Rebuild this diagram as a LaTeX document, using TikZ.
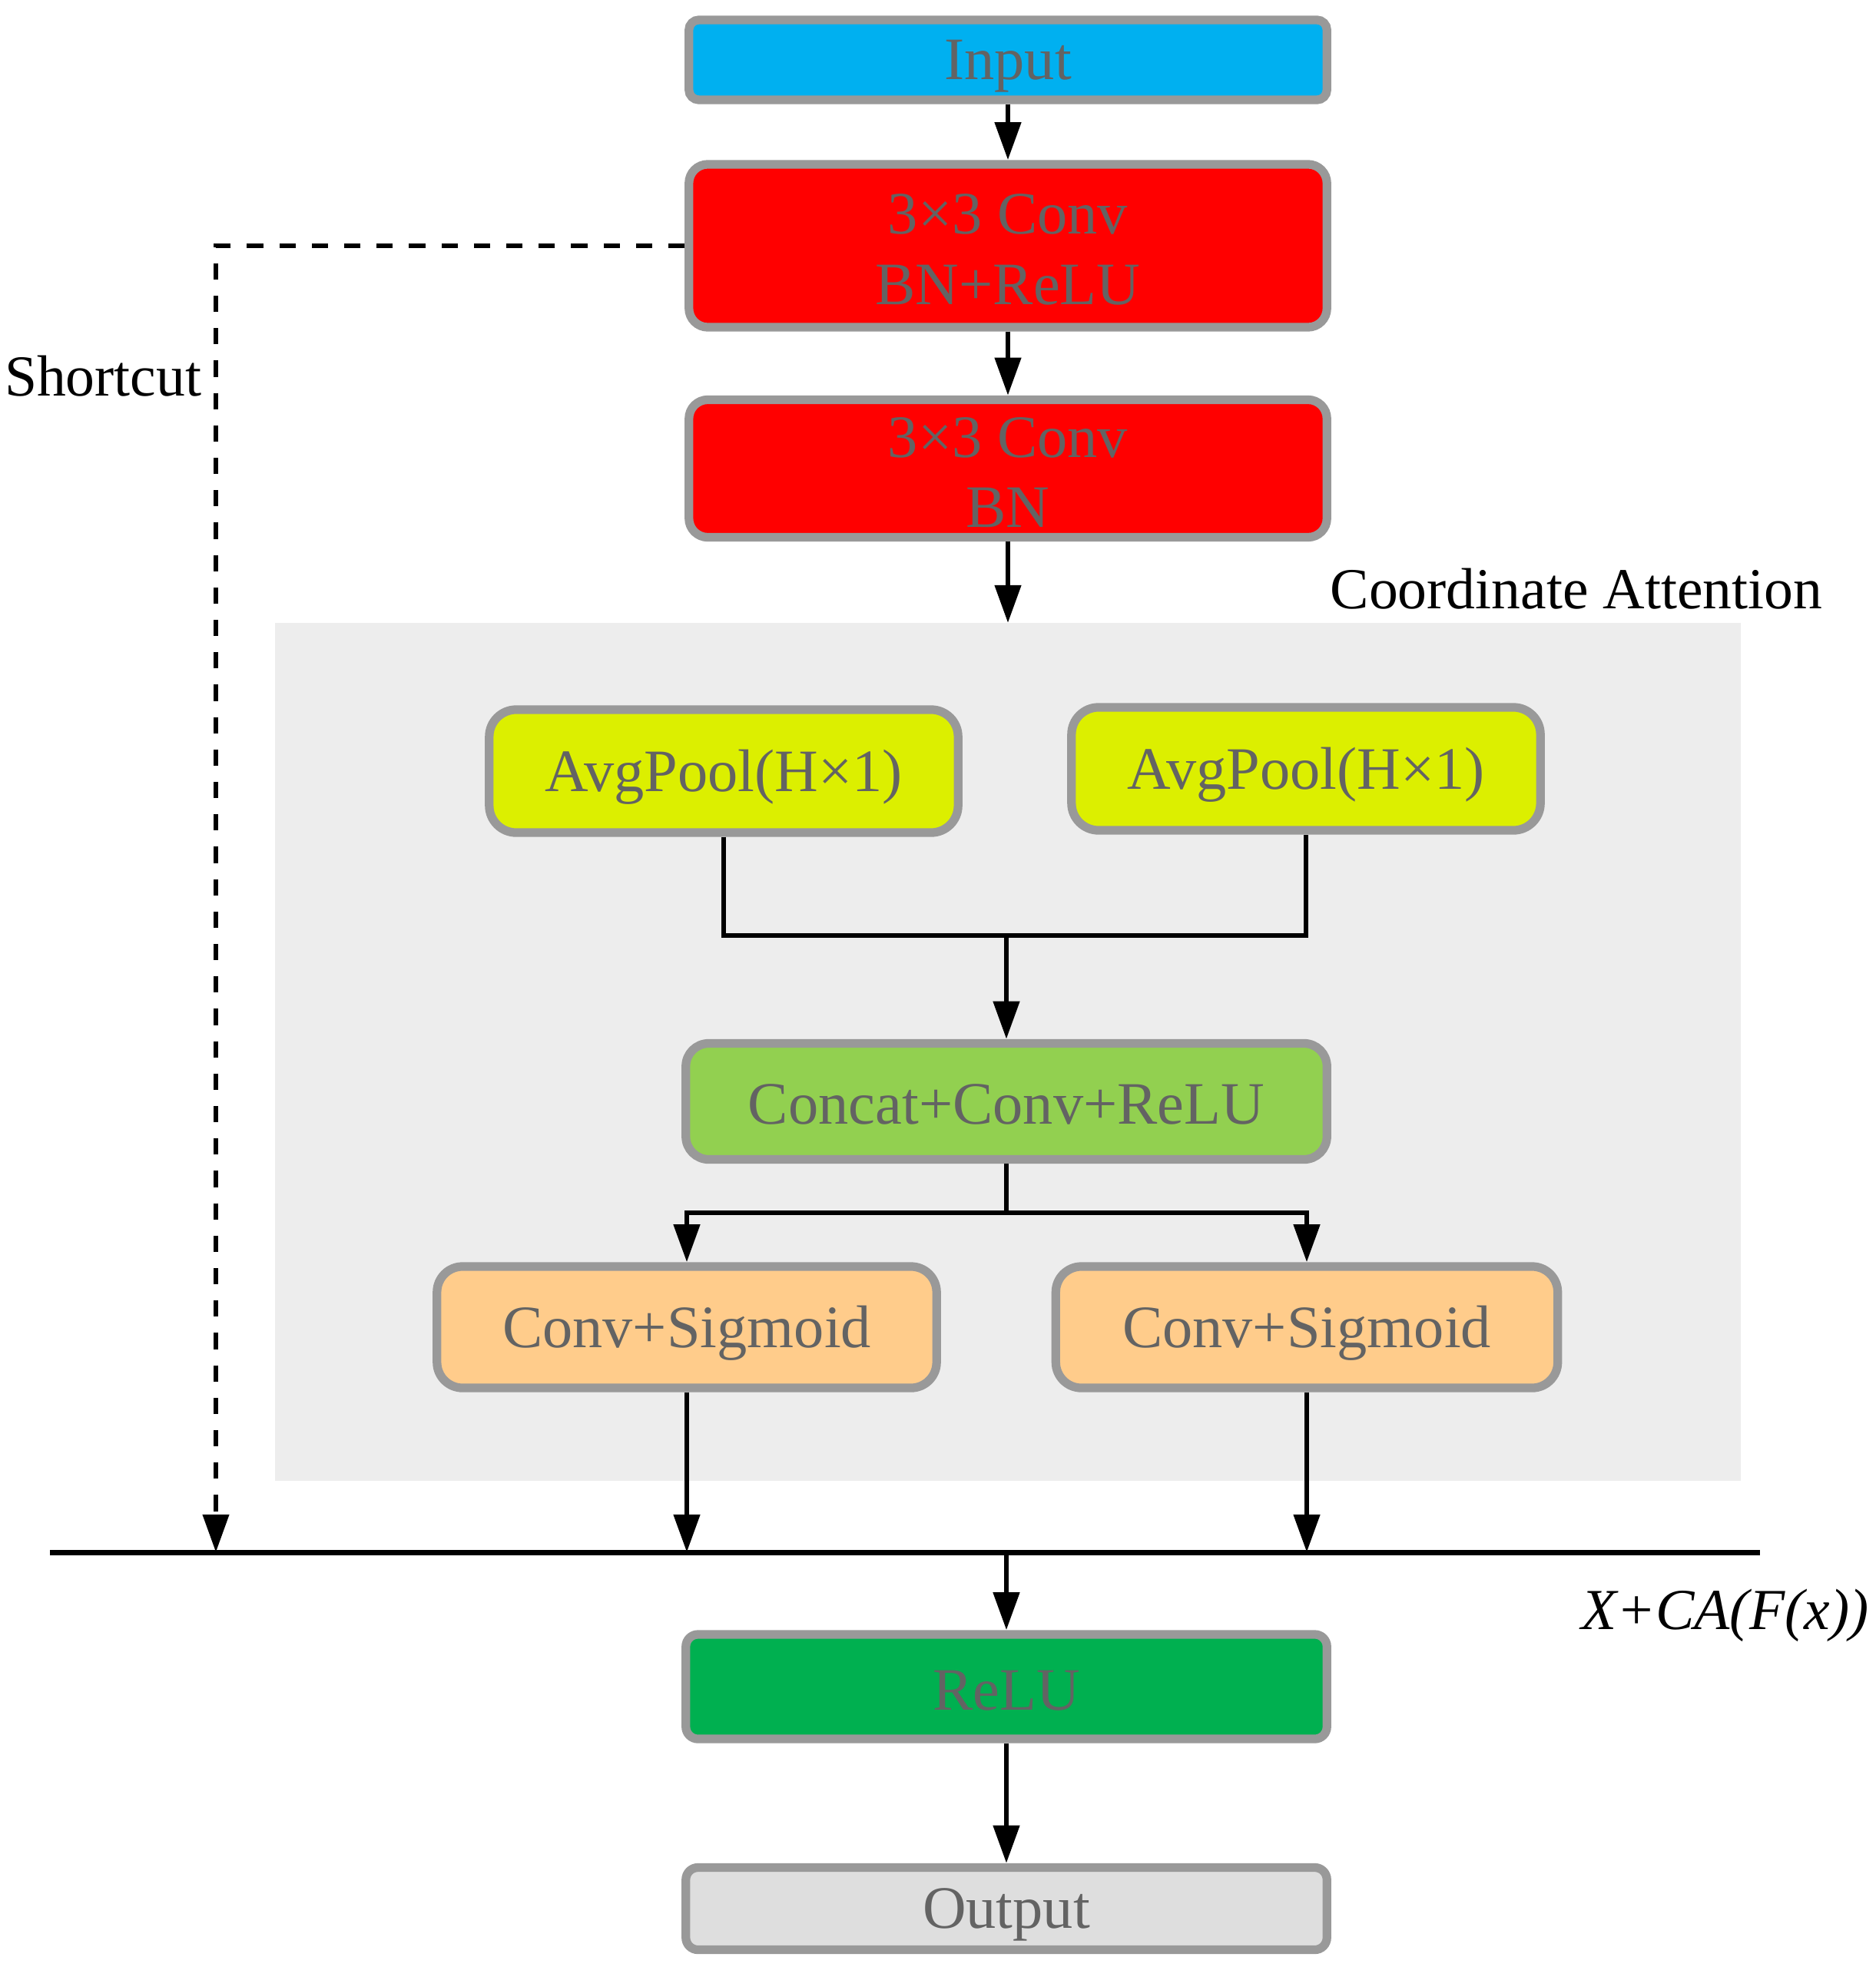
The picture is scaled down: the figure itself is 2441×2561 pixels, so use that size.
\documentclass[tikz,border=0pt]{standalone}
\usepackage{fontspec}
\setmainfont{Liberation Serif}
\usetikzlibrary{arrows.meta}
\definecolor{bordergray}{HTML}{999999}
\definecolor{txtgray}{HTML}{636363}
\definecolor{inblue}{HTML}{00B0F0}
\definecolor{convred}{HTML}{FF0000}
\definecolor{poolyel}{HTML}{DCEF00}
\definecolor{catgreen}{HTML}{92D050}
\definecolor{sigorange}{HTML}{FFCC8B}
\definecolor{relugreen}{HTML}{00B050}
\definecolor{outgray}{HTML}{DEDEDE}
\definecolor{cabg}{HTML}{EDEDED}
\newcommand{\lowtext}[2][2.3pt]{\raisebox{-#1}[\height][\depth]{#2}}
\tikzset{
  blockbox/.style={draw=bordergray, line width=3.2pt, text=txtgray, align=center,
    inner sep=0pt, font=\fontsize{22.3}{26}\selectfont},
  flowarrow/.style={line width=1.9pt, -{Triangle[length=14pt,width=9.5pt]}},
  flowline/.style={line width=1.9pt},
  dashedlink/.style={line width=1.8pt, dash pattern=on 6pt off 6pt, -{Triangle[length=14pt,width=9.5pt]}},
  plainlabel/.style={inner sep=0pt, font=\fontsize{21.5}{26}\selectfont}
}
\begin{document}
\begin{tikzpicture}[x=0.01cm,y=-0.01cm]
\useasboundingbox (0,0) rectangle (2441,2561);
% background of coordinate attention
\fill[cabg] (358,811) rectangle (2266,1928);
% nodes
\node[blockbox, fill=inblue, rounded corners=3.7pt, minimum width=8.3cm, minimum height=1.04cm] (input) at (1312,78) {\lowtext{Input}};
\node[blockbox, fill=convred, rounded corners=7pt, minimum width=8.3cm, minimum height=2.12cm] (conv1) at (1312,320) {\lowtext[1.4pt]{3×3 Conv}\\\lowtext[1.4pt]{BN+ReLU}};
\node[blockbox, fill=convred, rounded corners=7pt, minimum width=8.3cm, minimum height=1.79cm] (conv2) at (1312,610) {\lowtext[1.4pt]{3×3 Conv}\\\lowtext[1.4pt]{BN}};
\node[plainlabel, anchor=west] (calabel) at (1731,767) {Coordinate Attention};
\node[blockbox, fill=poolyel, rounded corners=10pt, minimum width=6.1cm, minimum height=1.6cm] (apL) at (942,1004) {\lowtext{AvgPool(H×1)}};
\node[blockbox, fill=poolyel, rounded corners=10pt, minimum width=6.1cm, minimum height=1.6cm] (apR) at (1700,1001) {\lowtext{AvgPool(H×1)}};
\node[blockbox, fill=catgreen, rounded corners=8.5pt, minimum width=8.34cm, minimum height=1.51cm] (concat) at (1310,1434) {\lowtext[1pt]{Concat+Conv+ReLU}};
\node[blockbox, fill=sigorange, rounded corners=9.5pt, minimum width=6.5cm, minimum height=1.58cm] (csL) at (894,1728) {\lowtext{Conv+Sigmoid}};
\node[blockbox, fill=sigorange, rounded corners=9.5pt, minimum width=6.53cm, minimum height=1.58cm] (csR) at (1701,1728) {\lowtext{Conv+Sigmoid}};
\node[blockbox, fill=relugreen, rounded corners=4.5pt, minimum width=8.34cm, minimum height=1.36cm] (relu) at (1310,2196) {\lowtext[1.6pt]{ReLU}};
\node[blockbox, fill=outgray, rounded corners=4.5pt, minimum width=8.34cm, minimum height=1.07cm] (output) at (1310,2485) {\lowtext{Output}};
\node[plainlabel, anchor=east] (shortlabel) at (263,490) {Shortcut};
\node[plainlabel, anchor=east] (sumlabel) at (2433,2103) {\itshape X+CA(F(x))};
% coordinates
\coordinate (catop) at (1312,811);
\coordinate (join) at (1310,1218);
\coordinate (split) at (1310,1579);
\coordinate (sumL) at (65,2021);
\coordinate (sumR) at (2291,2021);
\coordinate (sumC) at (1310,2021);
\coordinate (sumA) at (894,2021);
\coordinate (sumB) at (1701,2021);
\coordinate (sc) at (281,2021);
% connectors
\draw[flowarrow] (input) -- (conv1);
\draw[flowarrow] (conv1) -- (conv2);
\draw[flowarrow] (conv2) -- (catop);
\draw[flowline] (apL.south) |- (join) -| (apR.south);
\draw[flowarrow] (join) -- (concat.north);
\draw[flowline] (concat.south) -- (split);
\draw[flowarrow] (split) -| (csL.north);
\draw[flowarrow] (split) -| (csR.north);
\draw[flowarrow] (csL.south) -- (sumA);
\draw[flowarrow] (csR.south) -- (sumB);
\draw[line width=2pt] (sumL) -- (sumR);
\draw[flowarrow] (sumC) -- (relu.north);
\draw[flowarrow] (relu) -- (output);
\draw[dashedlink] (conv1.west) -| (sc);
\end{tikzpicture}
\end{document}
